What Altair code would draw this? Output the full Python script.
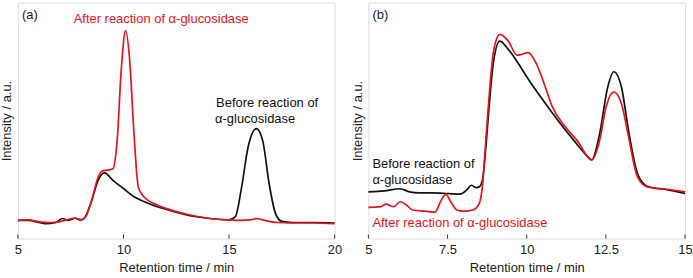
import altair as alt
import pandas as pd

# ---- Panel (a): retention time (min) and relative intensity ----
a_before_t = [5, 5.5, 6, 6.3, 6.8, 7.1, 7.4, 7.7, 8.0, 8.2, 8.5, 8.8, 9.1, 9.5, 10, 10.5, 11, 11.5, 12, 13, 14, 15, 15.3, 15.6, 15.9, 16.3, 16.6, 16.9, 17.2, 17.5, 18, 19, 20]
a_before_i = [7.7, 7.7, 6.8, 6.3, 6.8, 8.5, 7.7, 8.6, 7.9, 9.3, 16.3, 24.7, 27.8, 24.7, 21.2, 17.7, 15.6, 13.8, 12.4, 10.0, 8.6, 7.9, 9.3, 21.9, 38.6, 46.6, 41.4, 23.3, 10.7, 7.3, 6.8, 6.8, 6.6]

a_after_t = [5, 5.5, 6, 6.5, 7, 7.3, 7.7, 8.0, 8.2, 8.5, 8.8, 9.0, 9.3, 9.5, 9.7, 9.9, 10.1, 10.3, 10.5, 10.7, 10.85, 11, 11.5, 12, 13, 14, 15, 15.5, 16.0, 16.3, 16.7, 17.3, 18, 19, 20]
a_after_i = [7.7, 7.9, 7.1, 6.8, 7.2, 7.9, 8.6, 7.9, 9.1, 16.3, 26.1, 28.6, 29.1, 29.6, 41.4, 72.1, 88.1, 74.9, 44.2, 21.9, 19.1, 17.4, 14.6, 12.8, 10.3, 8.6, 7.9, 7.7, 7.9, 8.5, 7.7, 6.8, 6.6, 6.6, 6.3]

# ---- Panel (b) ----
b_before_t = [5, 5.5, 6.0, 6.3, 6.6, 7, 7.5, 7.9, 8.1, 8.25, 8.4, 8.5, 8.6, 8.7, 8.8, 8.95, 9.15, 9.4, 9.7, 10, 10.5, 11, 11.5, 12, 12.05, 12.3, 12.55, 12.75, 13, 13.2, 13.5, 13.8, 14.5, 15]
b_before_i = [19.8, 20.2, 21.1, 19.8, 19.4, 19.4, 19.1, 18.8, 20.5, 22.6, 21.6, 21.9, 24.7, 37.2, 54.0, 74.9, 83.7, 80.5, 74.9, 68.6, 58.9, 49.8, 41.4, 33.8, 33.3, 44.2, 63.7, 70.7, 63.7, 47.0, 27.5, 22.2, 20.5, 19.1]

b_after_t = [5, 5.4, 5.55, 5.8, 6.0, 6.2, 6.4, 6.8, 7.1, 7.3, 7.45, 7.6, 7.8, 8.0, 8.3, 8.5, 8.6, 8.7, 8.8, 8.95, 9.15, 9.4, 9.7, 9.85, 10.05, 10.3, 10.6, 10.8, 11.2, 11.6, 12.05, 12.3, 12.5, 12.75, 13, 13.2, 13.5, 13.8, 14.5, 15]
b_after_i = [13.2, 13.5, 14.6, 13.5, 15.6, 14.2, 12.1, 11.6, 11.2, 16.3, 18.7, 15.6, 12.1, 11.6, 12.1, 14.9, 21.9, 40.0, 58.2, 79.1, 86.5, 84.0, 77.7, 78.1, 78.8, 74.2, 63.7, 56.1, 47.7, 41.4, 33.3, 41.4, 55.4, 62.1, 56.8, 44.2, 26.1, 21.9, 20.8, 19.8]

a_ticks = [5, 10, 15, 20]
b_ticks = [5, 7.5, 10, 12.5, 15]

BLACK = "#111111"
RED = "#e8141b"
FONT = "Liberation Sans"
W, H = 318, 237


def series(t, i):
    return pd.DataFrame({"t": t, "i": i})


def panel(tag, before, after, domain, ticks, notes):
    x = alt.X("t:Q", scale=alt.Scale(domain=domain, nice=False, zero=False),
              axis=alt.Axis(values=ticks, format=".1~f", ticks=False, grid=False,
                            domain=False, labelFontSize=13, labelPadding=5,
                            labelFont=FONT, labelColor="#222", labelFlush=False,
                            title="Retention time / min", titleFontSize=13,
                            titleFont=FONT, titleFontWeight="normal",
                            titlePadding=5, titleColor="#222"))
    y = alt.Y("i:Q", scale=alt.Scale(domain=[0, 100]),
              axis=alt.Axis(labels=False, ticks=False, grid=False, domain=False,
                            title="Intensity / a.u.", titleFontSize=13,
                            titleFont=FONT, titleFontWeight="normal",
                            titlePadding=4, titleColor="#222"))
    black = alt.Chart(before).mark_line(color=BLACK, strokeWidth=1.7,
                                        interpolate="monotone").encode(x=x, y=y)
    red = alt.Chart(after).mark_line(color=RED, strokeWidth=1.7,
                                     interpolate="monotone").encode(x=x, y=y)
    tick_rules = alt.Chart(pd.DataFrame({"t": ticks})).mark_rule(
        color="#333", strokeWidth=1).encode(
        x=alt.X("t:Q"), y=alt.value(H), y2=alt.value(H - 4))
    layers = [black, red, tick_rules]
    label = alt.Chart(pd.DataFrame({"s": [tag]})).mark_text(
        align="left", baseline="middle", font=FONT, fontSize=13, color="#222"
    ).encode(text="s:N", x=alt.value(4), y=alt.value(12))
    layers.append(label)
    for text, color, px, py in notes:
        layers.append(alt.Chart(pd.DataFrame({"s": [text]})).mark_text(
            align="left", baseline="middle", font=FONT, fontSize=13, color=color
        ).encode(text="s:N", x=alt.value(px), y=alt.value(py)))
    return alt.layer(*layers).properties(width=W, height=H)


left = panel("(a)", series(a_before_t, a_before_i), series(a_after_t, a_after_i),
             [5, 20], a_ticks,
             [("After reaction of α-glucosidase", RED, 56, 16),
              ("Before reaction of", BLACK, 199, 101),
              ("α-glucosidase", BLACK, 198, 117)])

right = panel("(b)", series(b_before_t, b_before_i), series(b_after_t, b_after_i),
              [5, 15], b_ticks,
              [("Before reaction of", BLACK, 4, 162),
               ("α-glucosidase", BLACK, 4, 178),
               ("After reaction of α-glucosidase", RED, 4, 221)])

chart = alt.hconcat(left, right, spacing=8).properties(
    padding={"left": 0, "top": 1, "right": 0, "bottom": 0}
).configure_view(stroke="#3a3a3a", strokeWidth=1.2).configure(background="white")

chart.save("out.html", embed_options={"renderer": "svg", "actions": False})
